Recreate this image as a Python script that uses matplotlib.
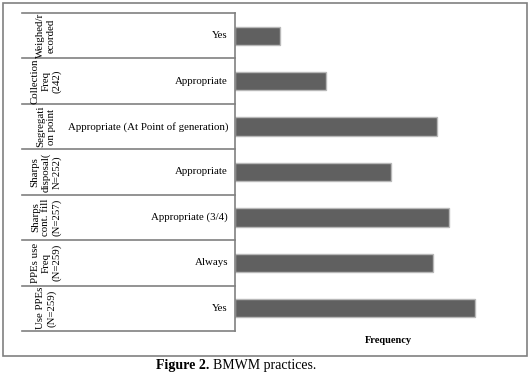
import matplotlib
matplotlib.use("Agg")
from matplotlib import pyplot as plt
from matplotlib.patches import Rectangle
from matplotlib.transforms import blended_transform_factory

plt.rcParams['font.family'] = ['Liberation Serif', 'DejaVu Serif']

# rows from top to bottom
groups = ['Weighed/r\necorded', 'Collection\nFreq\n(242)', 'Segregati\non point',
          'Sharps\ndisposal(\nN=252)', 'Sharps\ncont. fill\n(N=257)',
          'PPEs use\nFreq\n(N=259)', 'Use PPEs\n(N=259)']
answers = ['Yes', 'Appropriate', 'Appropriate (At Point of generation)',
           'Appropriate', 'Appropriate (3/4)', 'Always', 'Yes']
freq = [47, 96, 213, 164, 225, 208, 253]

grey = '#808080'

fig = plt.figure(figsize=(5.3, 3.76), dpi=100)
ax = fig.add_axes([235/530, 1-331/376, 285/530, 318/376])

ypos = list(range(len(freq)))
ax.barh(ypos, freq, height=0.4, color='#606060', edgecolor='#b8b8b8', linewidth=1)
ax.set_ylim(len(freq)-0.5, -0.5)
ax.set_xlim(0, 300)

for s in ['top', 'right', 'bottom']:
    ax.spines[s].set_visible(False)
ax.spines['left'].set_color(grey)
ax.spines['left'].set_linewidth(1.2)
ax.set_xticks([])
ax.set_yticks([])

# table on the left of the axis
tr = blended_transform_factory(ax.transAxes, ax.transData)
x0 = (22-235)/285
for i in range(len(freq)+1):
    ax.plot([x0, 0], [i-0.5, i-0.5], color=grey, lw=1.2, transform=tr, clip_on=False)

for i in ypos:
    ax.text(-7/285, i, answers[i], transform=tr, ha='right', va='center', fontsize=7.8)
    ax.text((46-235)/285, i, groups[i], transform=tr, ha='center', va='center',
            rotation=90, fontsize=7.8, linespacing=1.2, multialignment='center')

ax.set_xlabel('Frequency', fontweight='bold', fontsize=7.5)
ax.xaxis.set_label_coords((388-235)/285, -0.015)

fig.patches.append(Rectangle((3/530, 1-356/376), 524/530, 353/376, fill=False,
                             edgecolor=grey, linewidth=1.2, transform=fig.transFigure))

fig.text(209/530, 1-369/376, 'Figure 2.', ha='right', va='baseline', fontsize=10, fontweight='bold')
fig.text(213/530, 1-369/376, 'BMWM practices.', ha='left', va='baseline', fontsize=10)

fig.savefig('out.png', dpi=100)
